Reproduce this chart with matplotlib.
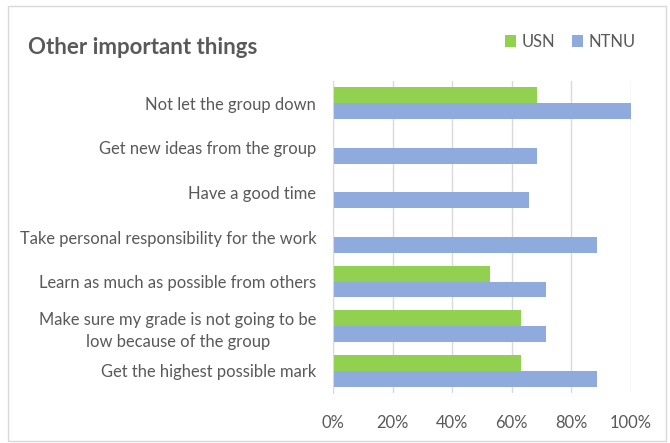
import numpy as np
import matplotlib.pyplot as plt
from matplotlib.patches import Rectangle
from matplotlib.ticker import PercentFormatter

categories = ['Not let the group down',
              'Get new ideas from the group',
              'Have a good time',
              'Take personal responsibility for the work',
              'Learn as much as possible from others',
              'Make sure my grade is not going to be\nlow because of the group',
              'Get the highest possible mark']
usn = [68.4, 0, 0, 0, 52.6, 63.2, 63.2]
ntnu = [100, 68.6, 65.7, 88.6, 71.4, 71.4, 88.6]

plt.rcParams['font.family'] = ['Lato', 'DejaVu Sans']
green = '#92D050'
blue = '#8FAADC'
grey_txt = '#595959'

fig = plt.figure(figsize=(6.7, 4.43), dpi=100)
fig.patches.append(Rectangle((8 / 670, 1 - 441 / 443), 658 / 670, 435 / 443,
                             transform=fig.transFigure, fill=False,
                             edgecolor='#d9d9d9', linewidth=1))

ax = fig.add_axes([333 / 670, 1 - 393 / 443, 298 / 670, 312 / 443])
y = np.arange(len(categories))
h = 0.355
ax.barh(y - h / 2, usn, height=h, color=green, label='USN')
ax.barh(y + h / 2, ntnu, height=h, color=blue, label='NTNU')

ax.set_xlim(0, 100)
ax.set_ylim(len(categories) - 0.5, -0.5)
ax.set_xticks(np.arange(0, 101, 20))
ax.xaxis.set_major_formatter(PercentFormatter(decimals=0))
ax.set_yticks(y)
ax.set_yticklabels(categories, fontsize=11.9, color=grey_txt,
                   multialignment='center', linespacing=1.5)
ax.tick_params(axis='x', labelsize=11.9, labelcolor=grey_txt, length=0, pad=16)
ax.tick_params(axis='y', length=0, pad=12)
ax.grid(axis='x', color='#d9d9d9', linewidth=1)
ax.set_axisbelow(True)
for s in ['top', 'right', 'bottom']:
    ax.spines[s].set_visible(False)
ax.spines['left'].set_color('#d9d9d9')

fig.text(28 / 670, 1 - 48 / 443, 'Other important things', fontsize=16,
         fontweight='bold', color=grey_txt, va='center', ha='left')
fig.legend(loc='center left', bbox_to_anchor=(490 / 670, 1 - 42 / 443),
           ncol=2, frameon=False, fontsize=11.9, handlelength=0.7,
           handleheight=0.7, handletextpad=0.3, columnspacing=1.0,
           labelcolor=grey_txt)

fig.savefig('out.png', dpi=100)
